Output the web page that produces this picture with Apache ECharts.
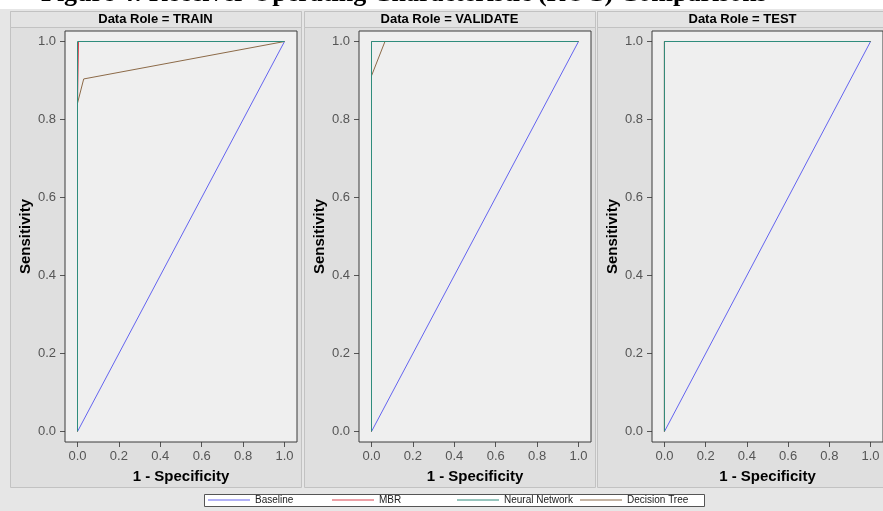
<!DOCTYPE html>
<html>
<head>
<meta charset="utf-8">
<script src="https://cdn.jsdelivr.net/npm/echarts@6/dist/echarts.min.js"></script>
<style>html,body{margin:0;padding:0;background:#fff}#c{width:883px;height:511px}</style>
</head>
<body>
<div id="c"></div>
<script>
// ---- data ----
const titleText = 'Figure 4: Receiver Operating Characteristic (ROC) Comparisons';
const roles = ['TRAIN', 'VALIDATE', 'TEST'];
const seriesNames = ['Baseline', 'MBR', 'Neural Network', 'Decision Tree'];
const seriesColors = ['#6464f0', '#d9434e', '#2f8c7c', '#8c6a48'];
const seriesZ = [3, 4, 10, 5];
const xTicks = [0, 0.2, 0.4, 0.6, 0.8, 1.0];
const yTicks = [0, 0.2, 0.4, 0.6, 0.8, 1.0];

const trainBaseline = [[0, 0], [1, 1]];
const trainMBR = [[0, 0], [0, 0.84], [0.005, 1.0], [1, 1]];
const trainNN = [[0, 0], [0, 1.0], [1, 1]];
const trainDT = [[0, 0], [0, 0.842], [0.03, 0.904], [1, 1]];

const validateBaseline = [[0, 0], [1, 1]];
const validateMBR = [[0, 0], [0, 1.0], [1, 1]];
const validateNN = [[0, 0], [0, 1.0], [1, 1]];
const validateDT = [[0, 0], [0, 0.912], [0.065, 1.0], [1, 1]];

const testBaseline = [[0, 0], [1, 1]];
const testMBR = [[0, 0], [0, 1.0], [1, 1]];
const testNN = [[0, 0], [0, 1.0], [1, 1]];
const testDT = [[0, 0], [0, 1.0], [1, 1]];

const roleData = [
  [trainBaseline, trainMBR, trainNN, trainDT],
  [validateBaseline, validateMBR, validateNN, validateDT],
  [testBaseline, testMBR, testNN, testDT]
];

// ---- layout ----
const panelLeft = [10, 304, 597];
const panelW = 291;
const plotLeftOff = 55;
const plotTop = 31, plotW = 232, plotH = 411;
const xMin = -12.5 / 207, xMax = 219.5 / 207;
const yMin = -10.5 / 390, yMax = 1 + 10.5 / 390;
const legendLefts = [208, 332, 457, 580];

const chart = echarts.init(document.getElementById('c'), null, {renderer: 'canvas'});

const grids = [], xAxes = [], yAxes = [], series = [], graphics = [];

graphics.push({type: 'rect', z: -20, shape: {x: 0, y: 9, width: 883, height: 502}, style: {fill: '#e6e6e6'}, silent: true});

roles.forEach((role, i) => {
  const pl = panelLeft[i];
  graphics.push({type: 'rect', z: -10, shape: {x: pl + 0.5, y: 11.5, width: panelW, height: 476}, style: {fill: '#dfdfdf', stroke: '#c2c2c2', lineWidth: 1}, silent: true});
  graphics.push({type: 'rect', z: -9, shape: {x: pl + 0.5, y: 11.5, width: panelW, height: 16}, style: {fill: '#e3e3e3', stroke: '#c2c2c2', lineWidth: 1}, silent: true});
  graphics.push({type: 'text', z: 5, x: pl + panelW / 2, y: 19.5, style: {text: 'Data Role = ' + role, font: 'bold 13px "Liberation Sans", Arial, sans-serif', fill: '#000', textAlign: 'center', textVerticalAlign: 'middle'}, silent: true});

  grids.push({left: pl + plotLeftOff, top: plotTop, width: plotW, height: plotH, show: true, backgroundColor: '#efefef', borderColor: '#3a3a3a', borderWidth: 1, containLabel: false, z: 1});

  xAxes.push({
    gridIndex: i, type: 'value', min: xMin, max: xMax,
    axisLine: {show: false, onZero: false},
    axisTick: {show: true, customValues: xTicks, length: 5, lineStyle: {color: '#555'}},
    axisLabel: {customValues: xTicks, formatter: v => v.toFixed(1), color: '#555', fontSize: 13, fontFamily: '"Liberation Sans", Arial, sans-serif', margin: 8},
    splitLine: {show: true, lineStyle: {color: '#fbfbfb', width: 1}},
    name: '1 - Specificity', nameLocation: 'middle', nameGap: 27,
    nameTextStyle: {fontWeight: 'bold', fontSize: 15, color: '#000', fontFamily: '"Liberation Sans", Arial, sans-serif'}
  });
  yAxes.push({
    gridIndex: i, type: 'value', min: yMin, max: yMax,
    axisLine: {show: false, onZero: false},
    axisTick: {show: true, customValues: yTicks, length: 5, lineStyle: {color: '#555'}},
    axisLabel: {customValues: yTicks, formatter: v => v.toFixed(1), color: '#555', fontSize: 13, fontFamily: '"Liberation Sans", Arial, sans-serif', margin: 9},
    splitLine: {show: true, lineStyle: {color: '#fbfbfb', width: 1}},
    name: 'Sensitivity', nameLocation: 'middle', nameGap: 32,
    nameTextStyle: {fontWeight: 'bold', fontSize: 15, color: '#000', fontFamily: '"Liberation Sans", Arial, sans-serif'}
  });

  seriesNames.forEach((nm, k) => {
    series.push({
      type: 'line', name: nm, xAxisIndex: i, yAxisIndex: i,
      data: roleData[i][k], showSymbol: false, symbol: 'none',
      color: seriesColors[k],
      lineStyle: {width: 1, color: seriesColors[k], opacity: 1},
      z: seriesZ[k], animation: false
    });
  });
});

// legend box
graphics.push({type: 'rect', z: -5, shape: {x: 204.5, y: 494.5, width: 500, height: 12}, style: {fill: '#ffffff', stroke: '#555', lineWidth: 1}, silent: true});

graphics.push({type: 'text', z: 50, x: 41, y: -19, style: {text: titleText, font: 'bold 26px "Liberation Serif", "Times New Roman", serif', fill: '#000', textAlign: 'left', textVerticalAlign: 'top'}, silent: true});

const legends = seriesNames.map((nm, k) => ({
  data: [nm],
  left: legendLefts[k], top: 495,
  orient: 'horizontal',
  itemGap: 0, itemWidth: 42, itemHeight: 11,
  icon: 'path://M0,0 L42,0 L42,1 L0,1 Z',
  padding: 0,
  textStyle: {fontSize: 10, color: '#222', fontFamily: '"Liberation Sans", Arial, sans-serif'},
  selectedMode: false
}));

chart.setOption({
  backgroundColor: '#ffffff',
  animation: false,
  graphic: {elements: graphics},
  grid: grids,
  xAxis: xAxes,
  yAxis: yAxes,
  legend: legends,
  series: series
});
</script>
</body>
</html>
